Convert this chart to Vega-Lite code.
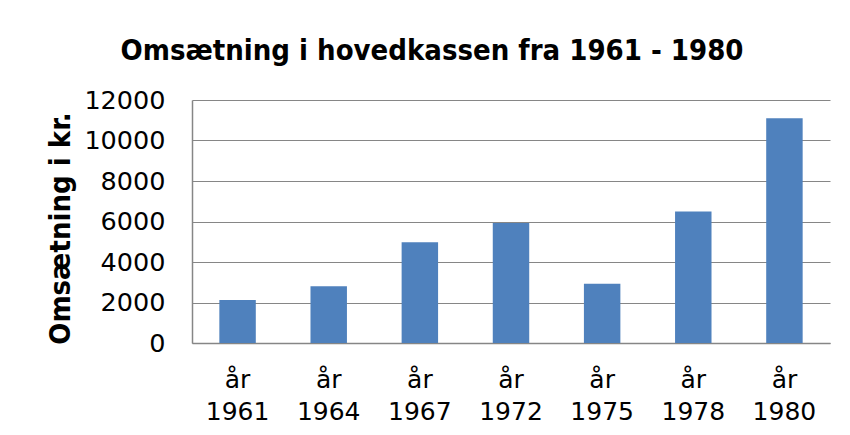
{
  "$schema": "https://vega.github.io/schema/vega-lite/v6.json",
  "width": 638,
  "height": 243,
  "autosize": "none",
  "padding": {"left": 192, "top": 100, "right": 20, "bottom": 92},
  "background": "white",
  "title": {
    "text": "Omsætning i hovedkassen fra 1961 - 1980",
    "font": "DejaVu Sans Condensed, DejaVu Sans",
    "fontSize": 29,
    "fontWeight": "bold",
    "color": "black",
    "anchor": "middle",
    "frame": "group",
    "dx": -79,
    "offset": 22
  },
  "data": {
    "values": [
      {"aar": "år 1961", "omsaetning": 2120},
      {"aar": "år 1964", "omsaetning": 2800},
      {"aar": "år 1967", "omsaetning": 4980},
      {"aar": "år 1972", "omsaetning": 5920},
      {"aar": "år 1975", "omsaetning": 2930},
      {"aar": "år 1978", "omsaetning": 6490},
      {"aar": "år 1980", "omsaetning": 11100}
    ]
  },
  "mark": {"type": "bar", "color": "#4F81BD"},
  "encoding": {
    "x": {
      "field": "aar",
      "type": "nominal",
      "sort": null,
      "scale": {"paddingInner": 0.6, "paddingOuter": 0.3},
      "axis": {
        "title": null,
        "labelAngle": 0,
        "labelExpr": "split(datum.label, ' ')",
        "labelFont": "DejaVu Sans",
        "labelFontSize": 25,
        "labelColor": "black",
        "labelLineHeight": 32,
        "labelPadding": 24,
        "ticks": false,
        "domainColor": "#868686",
        "domainWidth": 1.5
      }
    },
    "y": {
      "field": "omsaetning",
      "type": "quantitative",
      "scale": {"domain": [0, 12000]},
      "axis": {
        "title": "Omsætning i kr.",
        "titleFont": "DejaVu Sans Condensed, DejaVu Sans",
        "titleFontSize": 29,
        "titleFontWeight": "bold",
        "titleColor": "black",
        "titlePadding": 8,
        "titleY": 128,
        "values": [0, 2000, 4000, 6000, 8000, 10000, 12000],
        "format": "d",
        "labelFont": "DejaVu Sans",
        "labelFontSize": 25.5,
        "labelColor": "black",
        "labelPadding": 27,
        "ticks": false,
        "gridColor": "#868686",
        "gridWidth": 1.2,
        "domainColor": "#868686",
        "domainWidth": 1.5
      }
    }
  },
  "config": {
    "view": {"stroke": null}
  }
}
